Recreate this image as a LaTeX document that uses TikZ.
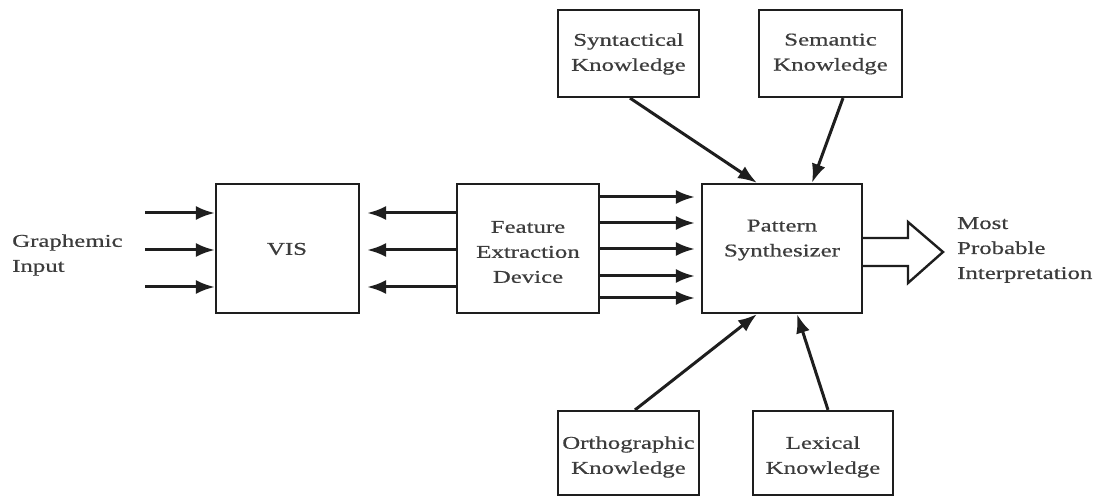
\documentclass[tikz,border=0pt]{standalone}
\usepackage{fontspec}
\setmainfont{Liberation Serif}[FakeStretch=1.38, FakeBold=0.6]
\usetikzlibrary{arrows.meta}
\definecolor{ink}{HTML}{1E1E1E}
\definecolor{txt}{HTML}{3C3C3C}
\begin{document}
\begin{tikzpicture}[x=1pt,y=-1pt,
  every node/.style={font=\fontsize{18}{25}\selectfont, text=txt},
  box/.style={draw=ink, line width=2.2pt, inner sep=0pt, align=center},
  lbl/.style={inner sep=0pt, align=center},
  arr/.style={draw=ink, line width=3pt, -{Latex[length=19pt,width=14pt]}},
  bigarrow/.style={draw=ink, line width=2.4pt, fill=white, line join=miter}]
\useasboundingbox (0,0) rectangle (1093,497);
\clip (0,0) rectangle (1093,497);

% main processing boxes
\node[box, minimum width=143, minimum height=129] (vis) at (287.5,248.5) {};
\node[lbl] at (287,249) {VIS};
\node[box, minimum width=142, minimum height=129] (fed) at (528,248.5) {};
\node[lbl] at (528,252) {Feature\\Extraction\\Device};
\node[box, minimum width=160, minimum height=129] (ps) at (782,248.5) {};
\node[lbl] at (782,240) {Pattern\\Synthesizer};

% knowledge sources
\node[box, minimum width=141, minimum height=87] (syn) at (628.5,53.5) {};
\node[lbl] at (628.5,54) {Syntactical\\Knowledge};
\node[box, minimum width=143, minimum height=87] (sem) at (830.5,53.5) {};
\node[lbl] at (830.5,54) {Semantic\\Knowledge};
\node[box, minimum width=141, minimum height=84] (ort) at (628.5,453) {};
\node[lbl] at (628.5,457) {Orthographic\\Knowledge};
\node[box, minimum width=140, minimum height=84] (lex) at (823,453) {};
\node[lbl] at (823,457) {Lexical\\Knowledge};

% outer labels
\node[lbl, align=left, anchor=west] (gin) at (12,255) {Graphemic\\Input};
\node[lbl, align=left, anchor=west] (mpi) at (957,250) {Most\\Probable\\Interpretation};

% graphemic input into VIS
\foreach \y [count=\i] in {213,250,287} {
  \coordinate (in\i) at (145,\y);
  \draw[arr] (in\i) -- (vis.west |- in\i);
}

% feature extraction back to VIS
\foreach \y in {213,250,287}
  \draw[arr, shorten >=7pt] (fed.west |- 0,\y) -- (vis.east |- 0,\y);

% feature extraction to pattern synthesizer
\foreach \y in {197,223,249,276,298}
  \draw[arr, shorten >=6pt] (fed.east |- 0,\y) -- (ps.west |- 0,\y);

% knowledge sources into the synthesizer
\draw[arr] (syn.south -| 630,0) -- (ps.north -| 757,0);
\draw[arr] (sem.south -| 843,0) -- (ps.north -| 812,0);
\draw[arr] (ort.north -| 635,0) -- (ps.south -| 757,0);
\draw[arr] (lex.north -| 828,0) -- (ps.south -| 797,0);

% hollow output arrow
\draw[bigarrow] (ps.east |- 0,238) -- (908,238) -- (908,222) -- (943,252)
  -- (908,283) -- (908,266) -- (ps.east |- 0,266);
\end{tikzpicture}
\end{document}
